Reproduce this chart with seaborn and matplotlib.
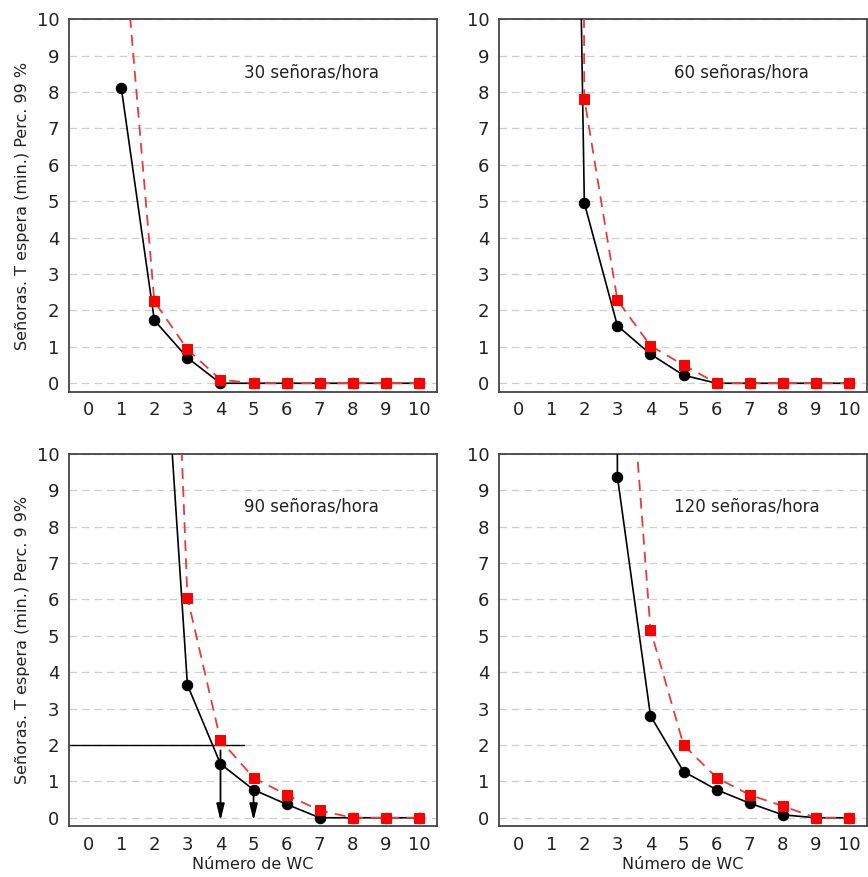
import numpy as np
import pandas as pd
import matplotlib
matplotlib.use("Agg")
import matplotlib.pyplot as plt
import seaborn as sns

# Waiting time (99th percentile, minutes) vs. number of WCs, for four arrival rates
rates = ["30 señoras/hora", "60 señoras/hora", "90 señoras/hora", "120 señoras/hora"]

x_30_black = [1, 2, 3, 4, 5, 6, 7, 8, 9, 10]
y_30_black = [8.12, 1.73, 0.70, 0.0, 0.0, 0.0, 0.0, 0.0, 0.0, 0.0]
x_30_red = [1, 2, 3, 4, 5, 6, 7, 8, 9, 10]
y_30_red = [12.9, 2.25, 0.93, 0.10, 0.0, 0.0, 0.0, 0.0, 0.0, 0.0]

x_60_black = [1, 2, 3, 4, 5, 6, 7, 8, 9, 10]
y_60_black = [61.0, 4.95, 1.58, 0.80, 0.22, 0.0, 0.0, 0.0, 0.0, 0.0]
x_60_red = [1, 2, 3, 4, 5, 6, 7, 8, 9, 10]
y_60_red = [230.0, 7.82, 2.28, 1.03, 0.50, 0.0, 0.0, 0.0, 0.0, 0.0]

x_90_black = [2, 3, 4, 5, 6, 7, 8, 9, 10]
y_90_black = [17.5, 3.65, 1.48, 0.77, 0.37, 0.0, 0.0, 0.0, 0.0]
x_90_red = [2, 3, 4, 5, 6, 7, 8, 9, 10]
y_90_red = [29.3, 6.05, 2.13, 1.10, 0.63, 0.20, 0.0, 0.0, 0.0]

x_120_black = [2, 3, 4, 5, 6, 7, 8, 9, 10]
y_120_black = [400.0, 9.37, 2.80, 1.27, 0.77, 0.40, 0.08, 0.0, 0.0]
x_120_red = [3, 4, 5, 6, 7, 8, 9, 10]
y_120_red = [17.2, 5.17, 2.0, 1.10, 0.63, 0.32, 0.0, 0.0]

series = [
    (x_30_black, y_30_black, x_30_red, y_30_red),
    (x_60_black, y_60_black, x_60_red, y_60_red),
    (x_90_black, y_90_black, x_90_red, y_90_red),
    (x_120_black, y_120_black, x_120_red, y_120_red),
]

ylabels = ["Señoras. T espera (min.) Perc. 99 %", None,
           "Señoras. T espera (min.) Perc. 9 9%", None]
xlabel = "Número de WC"

x_ticks = list(range(0, 11))
y_ticks = list(range(0, 11))

# threshold and chosen WC counts highlighted in the 90/hora panel
threshold = 2.0
threshold_end = 4.71
arrow_x = [4, 5]
arrow_top = [1.85, 0.77]

sns.set_style("white")
plt.rcParams["font.family"] = ["DejaVu Sans"]

fig, axes = plt.subplots(2, 2, figsize=(8.68, 8.77), dpi=100)
fig.subplots_adjust(left=0.0795, right=0.999, top=0.978, bottom=0.058,
                    wspace=0.168, hspace=0.167)

for i, ax in enumerate(axes.flat):
    xb, yb, xr, yr = series[i]
    ax.set_xlim(-0.58, 10.55)
    ax.set_ylim(-0.23, 10)
    ax.set_yticks(y_ticks)
    ax.set_xticks(x_ticks)
    ax.yaxis.grid(True, linestyle=(0, (6, 4)), color="#cfcfcf", linewidth=0.9)
    ax.xaxis.grid(False)
    ax.set_axisbelow(True)

    sns.lineplot(x=xb, y=yb, ax=ax, color="black", linewidth=1.2,
                 marker="o", markersize=7.5, markeredgecolor="black",
                 markerfacecolor="black", zorder=3)
    sns.lineplot(x=xr, y=yr, ax=ax, color="#e83a3a", linewidth=1.3,
                 linestyle=(0, (6, 4)), marker="s", markersize=6.5,
                 markeredgecolor="#ff0000", markerfacecolor="#ff0000", zorder=4)

    ax.text(4.7, 8.55, rates[i], fontsize=12, color="#222222",
            ha="left", va="center")

    for sp in ax.spines.values():
        sp.set_color("#444444")
        sp.set_linewidth(1.3)
    ax.tick_params(axis="both", direction="out", length=3, width=1,
                   color="#444444", labelsize=13, labelcolor="#222222", pad=4)

    if ylabels[i]:
        ax.set_ylabel(ylabels[i], fontsize=11.5, color="#222222", labelpad=5)
    else:
        ax.set_ylabel("")
    if i >= 2:
        ax.set_xlabel(xlabel, fontsize=11.5, color="#222222", labelpad=2)
    else:
        ax.set_xlabel("")

ax90 = axes[1, 0]
ax90.plot([-0.58, threshold_end], [threshold, threshold], color="black",
          linewidth=1.0, zorder=2)
for xa, ya in zip(arrow_x, arrow_top):
    ax90.annotate("", xy=(xa, -0.08), xytext=(xa, ya),
                  arrowprops=dict(arrowstyle="-|>,head_width=0.22,head_length=0.9",
                                  color="black", lw=1.3,
                                  mutation_scale=11, shrinkA=0, shrinkB=0),
                  zorder=5)

fig.savefig("out.png", dpi=100)
